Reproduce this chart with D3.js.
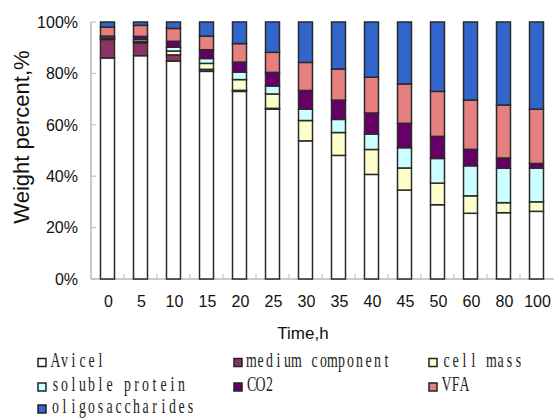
<!DOCTYPE html>
<html>
<head>
<meta charset="utf-8">
<script src="https://cdn.jsdelivr.net/npm/d3@7"></script>
<style>
  body { margin: 0; background: #fff; }
  svg { display: block; }
</style>
</head>
<body>
<script>
// time points (h)
const times = ["0", "5", "10", "15", "20", "25", "30", "35", "40", "45", "50", "60", "80", "100"];

// weight percent of each fraction
const avicel   = [86.0, 86.9, 84.8, 80.8, 73.0, 66.1, 53.7, 48.1, 40.7, 34.6, 28.9, 25.6, 25.8, 26.3];
const medium   = [7.2, 5.0, 2.4, 0.8, 0.4, 0.3, 0, 0, 0, 0, 0, 0, 0, 0];
const cellMass = [0.3, 0.5, 1.5, 2.3, 4.2, 5.6, 7.9, 8.9, 9.7, 8.6, 8.4, 6.8, 3.9, 3.7];
const soluble  = [0.7, 0.8, 1.5, 1.9, 2.9, 3.1, 4.4, 5.1, 6.0, 7.9, 9.6, 11.7, 13.4, 13.1];
const co2      = [0.3, 1.2, 2.3, 3.4, 3.9, 5.3, 7.3, 7.5, 8.2, 9.5, 8.6, 6.4, 4.0, 1.8];
const vfa      = [3.5, 4.3, 5.0, 5.3, 7.2, 7.8, 10.9, 12.1, 13.9, 15.3, 17.5, 19.2, 20.6, 21.1];
const oligo    = [2.0, 1.3, 2.5, 5.5, 8.4, 11.8, 15.7, 18.3, 21.5, 24.1, 27.0, 30.4, 32.3, 33.9];

const seriesNames = ["Avicel", "medium component", "cell mass", "soluble protein", "CO2", "VFA", "oligosaccharides"];
const seriesValues = [avicel, medium, cellMass, soluble, co2, vfa, oligo];
const colors = ["#ffffff", "#8b3366", "#ffffcc", "#ccffff", "#660066", "#e68080", "#3366cc"];

const yTicks = [0, 0.2, 0.4, 0.6, 0.8, 1];

const width = 554, height = 418;
const svg = d3.select("body").append("svg").attr("width", width).attr("height", height);

// one row per time point
const rows = times.map((t, i) => {
  const r = {time: t};
  seriesNames.forEach((s, k) => { r[s] = seriesValues[k][i]; });
  return r;
});

const stack = d3.stack().keys(seriesNames).offset(d3.stackOffsetExpand);
const layers = stack(rows);

const x = d3.scaleBand().domain(times).range([91, 553]).paddingInner(0.576).paddingOuter(0.288);
const y = d3.scaleLinear().domain([0, 1]).range([279, 22]);

// axes
const axisColor = "#b8b8b8";
svg.append("line")
  .attr("x1", 91).attr("x2", 91).attr("y1", y(1)).attr("y2", y(0))
  .attr("stroke", axisColor).attr("stroke-width", 1.5);
svg.append("line")
  .attr("x1", 91).attr("x2", width).attr("y1", y(0)).attr("y2", y(0))
  .attr("stroke", axisColor).attr("stroke-width", 1.5);

svg.selectAll(".ytick").data(yTicks).enter().append("line")
  .attr("class", "ytick")
  .attr("x1", 91).attr("x2", 96)
  .attr("y1", d => y(d)).attr("y2", d => y(d))
  .attr("stroke", axisColor).attr("stroke-width", 1);

svg.selectAll(".ylabel").data(yTicks).enter().append("text")
  .attr("class", "ylabel")
  .attr("x", 78).attr("y", d => y(d))
  .attr("dy", "0.36em")
  .attr("text-anchor", "end")
  .style("font-family", "Liberation Sans, Arial, sans-serif")
  .style("font-size", "16px")
  .attr("fill", "#111")
  .text(d => d3.format(".0%")(d));

// category separators on the x axis
svg.selectAll(".xtick").data(times.slice(1)).enter().append("line")
  .attr("class", "xtick")
  .attr("x1", d => x(d) - x.step() * x.paddingInner() / 2)
  .attr("x2", d => x(d) - x.step() * x.paddingInner() / 2)
  .attr("y1", y(0) - 5).attr("y2", y(0))
  .attr("stroke", axisColor).attr("stroke-width", 1);

svg.selectAll(".xlabel").data(times).enter().append("text")
  .attr("class", "xlabel")
  .attr("x", d => x(d) + x.bandwidth() / 2 + 1)
  .attr("y", 307)
  .attr("text-anchor", "middle")
  .style("font-family", "Liberation Sans, Arial, sans-serif")
  .style("font-size", "16px")
  .attr("fill", "#111")
  .text(d => d);

// bars
const layer = svg.selectAll(".layer").data(layers).enter().append("g")
  .attr("class", "layer")
  .attr("fill", (d, i) => colors[i]);

layer.selectAll("rect")
  .data(d => d.filter(p => p[1] - p[0] > 0))
  .enter().append("rect")
  .attr("x", d => x(d.data.time))
  .attr("y", d => y(d[1]))
  .attr("width", x.bandwidth())
  .attr("height", d => y(d[0]) - y(d[1]))
  .attr("stroke", "#2a2a2a")
  .attr("stroke-width", 1.5);

// titles
svg.append("text")
  .attr("transform", "translate(29,137) rotate(-90)")
  .attr("text-anchor", "middle")
  .style("font-family", "Liberation Sans, Arial, sans-serif")
  .style("font-size", "22px")
  .attr("fill", "#111")
  .text("Weight percent,%");

svg.append("text")
  .attr("x", 303).attr("y", 339)
  .attr("text-anchor", "middle")
  .style("font-family", "Liberation Sans, Arial, sans-serif")
  .style("font-size", "17px")
  .attr("fill", "#111")
  .text("Time,h");

// legend, three columns; text set in fixed-width cells
const legendCols = [38, 234, 429];
const legendBase = [366.5, 391, 413];
const cell = 9, squeeze = 0.66;
const legend = svg.selectAll(".legend").data(seriesNames).enter().append("g")
  .attr("class", "legend")
  .attr("transform", (d, i) => `translate(${legendCols[i % 3]},${legendBase[Math.floor(i / 3)]})`);

legend.append("rect")
  .attr("x", 0).attr("y", -8)
  .attr("width", 8).attr("height", 8)
  .attr("fill", (d, i) => colors[i])
  .attr("stroke", "#222")
  .attr("stroke-width", 1.5);

const ltext = legend.append("text")
  .attr("transform", `translate(13,0) scale(${squeeze},1)`)
  .attr("text-anchor", "middle")
  .style("font-family", "Liberation Serif, Times New Roman, serif")
  .style("font-size", "21px")
  .attr("fill", "#222");

ltext.selectAll("tspan")
  .data(d => d.split(""))
  .enter().append("tspan")
  .attr("x", (c, i) => (i * cell + cell / 2) / squeeze)
  .text(c => c);
</script>
</body>
</html>
